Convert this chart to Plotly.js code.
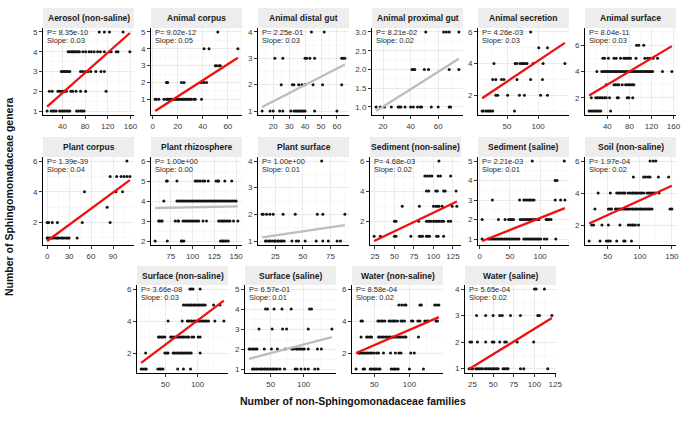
<!DOCTYPE html>
<html>
<head>
<meta charset="utf-8">
<script src="https://cdn.plot.ly/plotly-3.0.1.min.js"></script>
<style>html,body{margin:0;padding:0;background:#fff;}#chart{width:690px;height:422px;}</style>
</head>
<body>
<div id="chart"></div>
<script>
// ---------------- DATA ----------------
const panelNames = ["Aerosol (non-saline)", "Animal corpus", "Animal distal gut", "Animal proximal gut",
  "Animal secretion", "Animal surface", "Plant corpus", "Plant rhizosphere", "Plant surface",
  "Sediment (non-saline)", "Sediment (saline)", "Soil (non-saline)", "Surface (non-saline)",
  "Surface (saline)", "Water (non-saline)", "Water (saline)"];

const pValues = [8.35e-10, 9.02e-12, 2.25e-01, 8.21e-02, 4.26e-03, 8.04e-11, 1.39e-39, 1.00e+00,
  1.00e+00, 4.68e-03, 2.21e-03, 1.97e-04, 3.66e-08, 6.57e-01, 8.58e-04, 5.65e-04];
const slopeLabels = [0.03, 0.05, 0.03, 0.02, 0.03, 0.03, 0.04, 0.00, 0.01, 0.02, 0.01, 0.02, 0.03, 0.01, 0.02, 0.02];
// fitted line (intercept, slope) as drawn in the picture
const fitIntercept = [0.893, 0.21, 0.747, 0.54, 1.547, 2.0, 0.80, 3.60, 1.059, 0.091, 0.851, 1.71, 1.017, 1.365, 1.544, 0.583];
const fitSlope = [0.0255, 0.048, 0.031, 0.0233, 0.0263, 0.025, 0.035, 0.00086, 0.0061, 0.02476, 0.0123, 0.0183, 0.0302, 0.0086, 0.019, 0.0192];
// largest y value of each panel where it is hidden under the label text (null = visible)
const yHiddenMax = [null, null, null, null, null, 7, null, 6, null, null, null, null, null, 5, 6, null];

const aerosolX = [105,114,123,147,
  50,53,56,58,60,63,65,68,70,76,81,87,91,96,102,107,114,123,126,135,138,159,
  38,41,44,47,50,53,72,76,81,85,90,99,108,114,
  17,22,32,35,38,41,44,47,55,58,64,72,81,117,
  13,20,23,26,29,35,38,41,44,47,50,53,65,68,72,75,78];
const aerosolY = [5,5,5,5,
  4,4,4,4,4,4,4,4,4,4,4,4,4,4,4,4,4,4,4,4,4,4,
  3,3,3,3,3,3,3,3,3,3,3,3,3,3,
  2,2,2,2,2,2,2,2,2,2,2,2,2,2,
  1,1,1,1,1,1,1,1,1,1,1,1,1,1,1,1,1];

const corpusX = [52, 41,45,68, 50,51,53,54, 11,12,23,25,38,39,41,43,
  2,3,5,9,11,12,13,14,15,16,17,18,19,20,21,22,23,24,25,26,27,28,29,30,31,33,34,39];
const corpusY = [5, 4,4,4, 3,3,3,3, 2,2,2,2,2,2,2,2,
  1,1,1,1,1,1,1,1,1,1,1,1,1,1,1,1,1,1,1,1,1,1,1,1,1,1,1,1];

const distalX = [44,52, 21,26,40,41,43,46,63,64,65, 25,32,33,36,38,40,45,51,63,
  13,18,20,24,26,31,33,34,35,36,37,38,39,40,46,60];
const distalY = [4,4, 3,3,3,3,3,3,3,3,3, 2,2,2,2,2,2,2,2,2,
  1,1,1,1,1,1,1,1,1,1,1,1,1,1,1,1];

const proximalX = [51,64,66,68,75, 41,42,43,50,53,68,75,
  15,18,21,26,31,32,33,36,40,42,45,47,48,55,60,68,69];
const proximalY = [3,3,3,3,3, 2,2,2,2,2,2,2,
  1,1,1,1,1,1,1,1,1,1,1,1,1,1,1,1,1];

const secretionX = [88, 101,115, 29,63,66,71,74,76,79,82,92,108,143,
  27,32,41,45,66,88,107, 32,35,51,70,78,104,115, 10,12,16,19,21,24,27,62];
const secretionY = [6, 5,5, 4,4,4,4,4,4,4,4,4,4,4,
  3,3,3,3,3,3,3, 2,2,2,2,2,2,2, 1,1,1,1,1,1,1,1];

const surfaceAnimX = [93,97,106,
  32,35,42,52,56,64,70,73,76,79,82,92,108,113,117,123,131,
  21,30,33,36,39,42,45,48,51,54,57,60,63,66,69,72,75,78,81,84,87,90,93,96,99,102,105,108,111,114,117,120,122,140,157,
  38,52,55,58,61,67,73,76,79,82,85,88,
  11,19,22,25,28,31,35,38,44,58,60,76,79,86,
  7,10,13,16,19,22,25,28,46];
const surfaceAnimY = [6,6,6,
  5,5,5,5,5,5,5,5,5,5,5,5,5,5,5,5,5,
  4,4,4,4,4,4,4,4,4,4,4,4,4,4,4,4,4,4,4,4,4,4,4,4,4,4,4,4,4,4,4,4,4,4,4,
  3,3,3,3,3,3,3,3,3,3,3,3,
  2,2,2,2,2,2,2,2,2,2,2,2,2,2,
  1,1,1,1,1,1,1,1,1];

const plantCorpusX = [109, 86,95,101,105,109,113, 51,94,103, 82, 0,2,7,14,48,86,
  0,1,3,5,7,9,12,14,16,19,21,23,26,28,30,41];
const plantCorpusY = [6, 5,5,5,5,5,5, 4,4,4, 3, 2,2,2,2,2,2,
  1,1,1,1,1,1,1,1,1,1,1,1,1,1,1,1];

const rhizoX = [70,71,82,103,105,107,109,112,114,118,127,129,130,137,145,
  67,82,84,86,88,90,92,94,96,98,100,102,104,106,108,110,112,114,116,118,120,122,124,126,128,130,132,134,136,138,140,142,144,146,148,150,
  61,62,64,65,80,83,84,89,91,93,95,97,99,101,103,105,107,112,116,130,132,134,135,137,139,141,143,147,152,
  57,71,87,88,90,132,134,135,137,139,141];
const rhizoY = [5,5,5,5,5,5,5,5,5,5,5,5,5,5,5,
  4,4,4,4,4,4,4,4,4,4,4,4,4,4,4,4,4,4,4,4,4,4,4,4,4,4,4,4,4,4,4,4,4,4,4,4,
  3,3,3,3,3,3,3,3,3,3,3,3,3,3,3,3,3,3,3,3,3,3,3,3,3,3,3,3,3,
  2,2,2,2,2,2,2,2,2,2,2];

const plantSurfX = [67, 13,14,17,20,23,32,43,63,68,88,
  16,17,19,20,22,24,25,27,28,30,31,33,40,44,46,52,62,68,73,81,84];
const plantSurfY = [4, 2,2,2,2,2,2,2,2,2,2,
  1,1,1,1,1,1,1,1,1,1,1,1,1,1,1,1,1,1,1,1,1];

const sedFreshX = [107, 89,92,95,98,106,109,122, 91,94,103,105,113,115,129,
  60,82,100,103,105,107,111,124,130,
  50,52,81,91,93,95,97,100,102,104,106,108,111,113,119,122,
  24,32,50,52,71,82,84,86,91,93,95,104,106,113];
const sedFreshY = [6, 5,5,5,5,5,5,5, 4,4,4,4,4,4,4,
  3,3,3,3,3,3,3,3,3,
  2,2,2,2,2,2,2,2,2,2,2,2,2,2,2,2,
  1,1,1,1,1,1,1,1,1,1,1,1,1,1];

const sedSalX = [87,140, 125,128, 21,66,73,76,79,82,84,87,90,125,134,141,
  4,31,42,48,51,53,56,67,70,73,76,79,82,84,87,90,93,96,98,110,112,115,118,
  4,14,17,20,23,26,29,32,35,38,41,44,47,50,53,56,59,62,65,73,76,79,82,84,87,90,93,96,98,101,107,111,126];
const sedSalY = [5,5, 4,4, 3,3,3,3,3,3,3,3,3,3,3,3,
  2,2,2,2,2,2,2,2,2,2,2,2,2,2,2,2,2,2,2,2,2,2,2,
  1,1,1,1,1,1,1,1,1,1,1,1,1,1,1,1,1,1,1,1,1,1,1,1,1,1,1,1,1,1,1,1,1];

const soilX = [116,121,125, 90,106,109,113,116,129,145,
  35,54,64,67,69,72,75,77,82,85,88,90,93,95,98,101,103,106,111,114,116,119,121,124,130,
  30,51,54,56,62,64,67,69,72,75,77,80,82,85,88,90,93,95,98,101,103,106,108,111,114,116,119,147,150,
  25,28,41,51,69,82,85,88,90,93,98,
  21,38,48,51,54,64,75,77,87];
const soilY = [6,6,6, 5,5,5,5,5,5,5,
  4,4,4,4,4,4,4,4,4,4,4,4,4,4,4,4,4,4,4,4,4,4,4,4,4,
  3,3,3,3,3,3,3,3,3,3,3,3,3,3,3,3,3,3,3,3,3,3,3,3,3,3,3,3,3,
  2,2,2,2,2,2,2,2,2,2,2,
  1,1,1,1,1,1,1,1,1];

const surfFreshX = [88,90,93,104,
  78,81,84,86,89,91,94,96,99,102,104,107,109,112,125,135,
  54,76,84,86,89,91,94,96,99,102,104,107,109,112,114,117,127,141,
  39,41,44,46,49,58,60,63,66,68,71,73,76,78,81,84,86,91,94,101,104,
  19,49,52,54,62,64,67,70,72,75,77,80,83,85,88,90,104,
  12,15,18,20,38,41,43,46,69,78,89];
const surfFreshY = [6,6,6,6,
  5,5,5,5,5,5,5,5,5,5,5,5,5,5,5,5,
  4,4,4,4,4,4,4,4,4,4,4,4,4,4,4,4,4,4,
  3,3,3,3,3,3,3,3,3,3,3,3,3,3,3,3,3,3,3,3,3,
  2,2,2,2,2,2,2,2,2,2,2,2,2,2,2,2,2,
  1,1,1,1,1,1,1,1,1,1,1];

const surfSalX = [42,45,55,67,81,109,112, 32,52,68,74,107,143,
  17,19,22,24,27,29,40,51,60,72,82,85,89,91,94,96,99,101,107,121,127,
  22,24,27,29,32,35,37,40,42,45,47,50,53,55,58,60,64,71,87,90,96,102,107,117,122];
const surfSalY = [4,4,4,4,4,4,4, 3,3,3,3,3,3,
  2,2,2,2,2,2,2,2,2,2,2,2,2,2,2,2,2,2,2,2,2,
  1,1,1,1,1,1,1,1,1,1,1,1,1,1,1,1,1,1,1,1,1,1,1,1,1];

const waterFreshX = [85,89,93,95,115,117,136,139,142,
  31,33,55,57,60,62,65,71,73,76,78,80,83,88,90,93,103,105,112,115,122,125,127,138,140,
  31,39,41,44,46,56,58,61,63,66,68,71,73,76,78,80,83,85,88,90,93,95,113,
  27,29,31,34,36,39,41,44,46,49,53,56,63,73,80,85,88,102,107,
  24,34,36,44,46,49,51,53,56,58,74,77,79,81,84,100,120];
const waterFreshY = [5,5,5,5,5,5,5,5,5,
  4,4,4,4,4,4,4,4,4,4,4,4,4,4,4,4,4,4,4,4,4,4,4,4,4,
  3,3,3,3,3,3,3,3,3,3,3,3,3,3,3,3,3,3,3,3,3,3,3,
  2,2,2,2,2,2,2,2,2,2,2,2,2,2,2,2,2,2,2,
  1,1,1,1,1,1,1,1,1,1,1,1,1,1,1,1,1];

const waterSalX = [100,102,112, 30,41,50,58,61,71,83,104,106,121,
  22,24,31,41,49,51,58,64,66,79,99,
  21,23,25,29,31,33,35,37,40,42,44,46,48,50,52,54,56,62,64,66,68,83,87,116];
const waterSalY = [4,4,4, 3,3,3,3,3,3,3,3,3,3,
  2,2,2,2,2,2,2,2,2,2,2,
  1,1,1,1,1,1,1,1,1,1,1,1,1,1,1,1,1,1,1,1,1,1,1,1];

const panelX = [aerosolX, corpusX, distalX, proximalX, secretionX, surfaceAnimX, plantCorpusX, rhizoX,
  plantSurfX, sedFreshX, sedSalX, soilX, surfFreshX, surfSalX, waterFreshX, waterSalX];
const panelY = [aerosolY, corpusY, distalY, proximalY, secretionY, surfaceAnimY, plantCorpusY, rhizoY,
  plantSurfY, sedFreshY, sedSalY, soilY, surfFreshY, surfSalY, waterFreshY, waterSalY];

// tick labels
const xTicks = [[40,80,120,160],[0,20,40,60],[20,30,40,50,60],[20,40,60],[50,100,150],[40,80,120,160],
  [0,30,60,90],[75,100,125,150],[25,50,75],[25,50,75,100,125],[0,50,100],[50,100,150],
  [50,100],[50,100],[50,100],[25,50,75,100,125]];
const yTicks = [[1,2,3,4,5],[1,2,3,4,5],[1,2,3,4],[1.0,1.5,2.0,2.5,3.0],[2,4,6],[2,4,6],
  [2,4,6],[2,3,4,5,6],[1,2,3,4],[2,4,6],[1,2,3,4,5],[2,4,6],
  [2,4,6],[1,2,3,4,5],[2,4,6],[1,2,3,4]];
const yTickText = [null,null,null,["1.0","1.5","2.0","2.5","3.0"],null,null,null,null,null,null,null,null,null,null,null,null];

const xTitle = "Number of non-Sphingomonadaceae families";
const yTitle = "Number of Sphingomonadaceae genera";

// ---------------- LAYOUT (pixels) ----------------
const W = 690, H = 422;
const panelLeft = [43,151,258,372,478,585, 43,151,258,370,478,585, 137,245,352,465];
const panelRow  = [0,0,0,0,0,0, 1,1,1,1,1,1, 2,2,2,2];
const panelW = 91;
const rowTop = [28, 157, 285], rowBottom = [115, 245, 373];
const stripTop = [8, 137, 266];

const FONT = "Liberation Sans, Arial, Helvetica, sans-serif";

function fmtP(p) {
  const s = p.toExponential(2);
  return s.replace(/e([+-])(\d)$/, (m, a, b) => 'e' + a + '0' + b);
}
function expand(lo, hi) { const d = (hi - lo) * 0.05; return [lo - d, hi + d]; }
function minorVals(t) {
  const step = t[1] - t[0];
  const out = [t[0] - step / 2];
  for (let i = 0; i < t.length - 1; i++) out.push((t[i] + t[i + 1]) / 2);
  out.push(t[t.length - 1] + step / 2);
  return out;
}

const traces = [];
const layout = {
  width: W, height: H, autosize: false,
  margin: {l: 0, r: 0, t: 0, b: 0, pad: 0},
  paper_bgcolor: "#ffffff", plot_bgcolor: "#ffffff",
  showlegend: false,
  font: {family: FONT, size: 8, color: "#333"},
  shapes: [], annotations: []
};

for (let i = 0; i < panelNames.length; i++) {
  const n = i + 1;
  const xs = panelX[i], ys = panelY[i];
  const xmin = Math.min(...xs), xmax = Math.max(...xs);
  const lx = [xmin, xmax];
  const ly = lx.map(v => fitIntercept[i] + fitSlope[i] * v);
  const xr = expand(xmin, xmax);
  const ytop = yHiddenMax[i] === null ? -Infinity : yHiddenMax[i];
  const yr = expand(Math.min(...ys, ...ly), Math.max(...ys, ...ly, ytop));
  const xa = n === 1 ? 'x' : 'x' + n, ya = n === 1 ? 'y' : 'y' + n;
  traces.push({type: 'scatter', mode: 'markers', x: xs, y: ys, xaxis: xa, yaxis: ya,
    marker: {color: '#141414', size: 3}, hoverinfo: 'skip', cliponaxis: false});
  traces.push({type: 'scatter', mode: 'lines', x: lx, y: ly, xaxis: xa, yaxis: ya,
    line: {color: pValues[i] < 0.05 ? '#F20F0F' : '#BDBDBD', width: 2.3}, hoverinfo: 'skip'});

  const r = panelRow[i];
  const L = panelLeft[i], T = rowTop[r], B = rowBottom[r];
  const common = {
    showline: true, linecolor: '#000', linewidth: 1, mirror: false,
    ticks: 'outside', ticklen: 3, tickwidth: 1, tickcolor: '#333',
    showgrid: true, gridcolor: '#E6E6E6', gridwidth: 0.8, zeroline: false,
    tickfont: {family: FONT, size: 8, color: '#3a3a3a'}, fixedrange: true,
    ticklabeloverflow: 'allow'
  };
  layout[n === 1 ? 'xaxis' : 'xaxis' + n] = Object.assign({}, common, {
    domain: [L / W, (L + panelW) / W], anchor: ya, range: xr,
    tickmode: 'array', tickvals: xTicks[i],
    minor: {tickvals: minorVals(xTicks[i]), showgrid: true, gridcolor: '#F3F3F3', gridwidth: 0.6, ticklen: 0}
  });
  const yax = Object.assign({}, common, {
    domain: [1 - B / H, 1 - T / H], anchor: xa, range: yr,
    tickmode: 'array', tickvals: yTicks[i],
    minor: {tickvals: minorVals(yTicks[i]), showgrid: true, gridcolor: '#F3F3F3', gridwidth: 0.6, ticklen: 0}
  });
  if (yTickText[i]) yax.ticktext = yTickText[i];
  layout[n === 1 ? 'yaxis' : 'yaxis' + n] = yax;

  // strip
  layout.shapes.push({type: 'rect', xref: 'paper', yref: 'paper', layer: 'below',
    x0: L / W, x1: (L + panelW) / W, y0: 1 - T / H, y1: 1 - stripTop[r] / H,
    fillcolor: '#EDEDED', line: {width: 0}});
  layout.annotations.push({xref: 'paper', yref: 'paper', x: (L + panelW / 2) / W, y: 1 - (stripTop[r] + T) / 2 / H,
    xanchor: 'center', yanchor: 'middle', showarrow: false, text: '<b>' + panelNames[i] + '</b>',
    font: {family: FONT, size: 8.5, color: '#1a1a1a'}});
  // P / slope labels
  layout.annotations.push({xref: 'paper', yref: 'paper', x: (L + 2) / W, y: 1 - (T + 4) / H,
    xanchor: 'left', yanchor: 'middle', showarrow: false, text: 'P= ' + fmtP(pValues[i]),
    font: {family: FONT, size: 7.5, color: '#2b2b2b'}});
  layout.annotations.push({xref: 'paper', yref: 'paper', x: (L + 2) / W, y: 1 - (T + 12.4) / H,
    xanchor: 'left', yanchor: 'middle', showarrow: false, text: 'Slope: ' + slopeLabels[i].toFixed(2),
    font: {family: FONT, size: 7.5, color: '#2b2b2b'}});
}

layout.annotations.push({xref: 'paper', yref: 'paper', x: 353 / W, y: 1 - 401 / H, xanchor: 'center', yanchor: 'middle',
  showarrow: false, text: '<b>' + xTitle + '</b>', font: {family: FONT, size: 10.5, color: '#111'}});
layout.annotations.push({xref: 'paper', yref: 'paper', x: 9 / W, y: 1 - 197 / H, xanchor: 'center', yanchor: 'middle',
  showarrow: false, textangle: -90, text: '<b>' + yTitle + '</b>', font: {family: FONT, size: 10.5, color: '#111'}});

Plotly.newPlot('chart', traces, layout, {staticPlot: true, displayModeBar: false});
</script>
</body>
</html>
